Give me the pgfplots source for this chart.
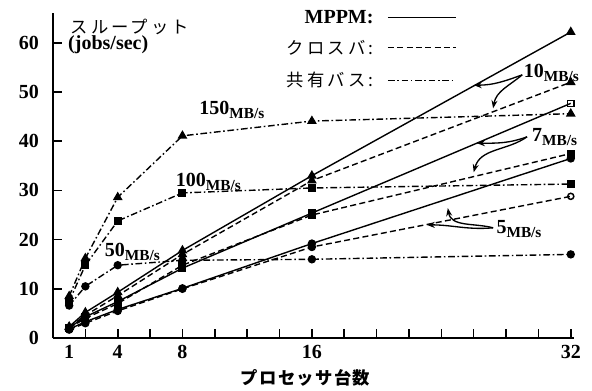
\documentclass[border=0pt]{standalone}
\usepackage{pgfplots}
\pgfplotsset{compat=1.18}
\usepackage{fontspec}
\setmainfont{Liberation Serif}
\newfontfamily\jp[LetterSpace=18.0]{Noto Sans CJK JP}
\newfontfamily\jpl[LetterSpace=8.0]{Noto Sans CJK JP}
\usetikzlibrary{arrows.meta}
\pgfplotsset{
 solidl/.style={black, line width=1.05pt, solid, mark options={solid, fill=black}},
 dashl/.style={black, line width=1.05pt, dash pattern=on 4.5pt off 2.5pt, mark options={solid, fill=black}},
 dotdl/.style={black, line width=1.05pt, dash pattern=on 5pt off 2pt on 1.2pt off 2pt, mark options={solid, fill=black}},
}
\newcommand{\mbs}[1]{{\fontsize{15}{16}\selectfont\bfseries #1}{\fontsize{11.5}{12}\selectfont\bfseries\raisebox{-3pt}{MB/s}}}
\begin{document}
\begin{tikzpicture}
\useasboundingbox (-39.75pt,-39pt) rectangle (404.25pt,253.5pt);
\begin{axis}[
 at={(0pt,0pt)}, anchor=south west, scale only axis,
 width=390.75pt, height=243.5pt,
 xmin=0, xmax=32.2, ymin=0, ymax=66,
 axis x line*=bottom, axis y line*=left,
 axis line style={line width=1.6pt},
 tick align=inside, major tick length=7pt,
 tick style={line width=1.2pt, black},
 xtick={2,4,...,32}, xticklabels={,4,,8,,,,16,,,,,,,,32},
 extra x ticks={1}, extra x tick labels={1},
 extra x tick style={major tick length=0pt},
 ytick={0,10,...,60},
 ticklabel style={font=\fontsize{15}{16}\selectfont\bfseries},
 yticklabel style={xshift=-7pt},
 xticklabel style={yshift=-2pt},
 /pgf/number format/assume math mode=true,
 clip=false,
]
% shared bus
\addplot[dotdl, mark=triangle*, mark size=3.2pt] coordinates {(1,8.5)(2,16.2)(4,28.6)(8,41.1)(16,44.1)(32,45.6)};
\addplot[dotdl, mark=square*, mark size=2.5pt] coordinates {(1,7.5)(2,14.8)(4,23.8)(8,29.5)(16,30.5)(32,31.3)};
\addplot[dotdl, mark=*, mark size=2.6pt] coordinates {(1,6.6)(2,10.5)(4,14.8)(8,15.8)(16,16.0)(32,17.0)};
% crossbar
\addplot[dashl, mark=triangle*, mark size=3.2pt] coordinates {(1,2.2)(2,4.6)(4,8.6)(8,17.0)(16,32.0)(32,52.0)};
\addplot[dashl, mark=square*, mark size=2.5pt] coordinates {(1,2.0)(2,4.0)(4,7.0)(8,14.8)(16,25.0)(32,37.5)};
\addplot[dashl, mark=*, mark size=2.6pt, mark indices={1,2,3,4,5}] coordinates {(1,1.7)(2,3.0)(4,5.5)(8,10.0)(16,18.5)(32,28.8)};
\addplot[only marks, mark=o, mark size=2.3pt, line width=1.1pt, black, mark options={fill=white}] coordinates {(32,28.8)};
% MPPM
\addplot[solidl, mark=triangle*, mark size=3.2pt] coordinates {(1,2.3)(2,5.2)(4,9.3)(8,17.8)(16,33.0)(32,62.2)};
\addplot[solidl, mark=square*, mark size=2.5pt, mark indices={1,2,3,4,5}] coordinates {(1,2.1)(2,4.3)(4,7.4)(8,14.2)(16,25.4)(32,47.7)};
\addplot[only marks, mark=square, mark size=2.3pt, line width=1.1pt, black, mark options={fill=white}] coordinates {(32,47.7)};
\addplot[solidl, mark=*, mark size=2.6pt] coordinates {(1,1.8)(2,3.3)(4,5.8)(8,10.1)(16,19.2)(32,36.5)};

% labels
\node at (axis cs:11.05,46.3) {\mbs{150}};
\node at (axis cs:9.6,31.7) {\mbs{100}};
\node at (axis cs:4.9,17.5) {\mbs{50}};
\node at (axis cs:30.8,53.9) {\mbs{10}};
\node at (axis cs:31.0,40.9) {\mbs{7}};
\node at (axis cs:28.8,22.2) {\mbs{5}};
% arrows
\draw[-{Stealth[length=6pt]}, line width=1pt] (axis cs:29.0,53.5) to[out=200,in=0] (axis cs:26.0,51.4);
\draw[-{Stealth[length=6pt]}, line width=1pt] (axis cs:29.0,53.5) to[out=220,in=80] (axis cs:27.2,46.7);
\draw[-{Stealth[length=6pt]}, line width=1pt] (axis cs:29.3,40.9) to[out=200,in=0] (axis cs:26.2,39.6);
\draw[-{Stealth[length=6pt]}, line width=1pt] (axis cs:29.3,40.9) to[out=215,in=75] (axis cs:26.0,33.7);
\draw[-{Stealth[length=6pt]}, line width=1pt] (axis cs:27.2,22.4) to[out=185,in=0] (axis cs:23.1,23.0);
\draw[-{Stealth[length=6pt]}, line width=1pt] (axis cs:27.2,22.4) to[out=165,in=-80] (axis cs:24.4,26.4);
% legend
\node[anchor=east, font=\fontsize{15}{16}\selectfont\bfseries] at (axis cs:20.1,65.2) {MPPM:};
\node[anchor=east, font=\fontsize{13}{14}\selectfont\jp] at (axis cs:20.1,59.1) {クロスバ:};
\node[anchor=east, font=\fontsize{13}{14}\selectfont\jp] at (axis cs:20.1,52.4) {共有バス:};
\draw[line width=1pt] (axis cs:20.7,65.2) -- (axis cs:24.9,65.2);
\draw[line width=1pt, dash pattern=on 4.5pt off 2.5pt] (axis cs:20.7,59.1) -- (axis cs:24.9,59.1);
\draw[line width=1pt, dash pattern=on 5pt off 2pt on 1.2pt off 2pt] (axis cs:20.7,52.4) -- (axis cs:24.9,52.4);
% axis labels
\node[anchor=west, font=\fontsize{13}{14}\selectfont\jp] at (axis cs:0.8,63.2) {スループット};
\node[anchor=west, font=\fontsize{15}{16}\selectfont\bfseries] at (axis cs:0.65,59.6) {(jobs/sec)};
\node[font=\fontsize{13}{14}\selectfont\jpl\bfseries] at (axis cs:15.6,-8.1) {プロセッサ台数};
\end{axis}
\end{tikzpicture}
\end{document}
